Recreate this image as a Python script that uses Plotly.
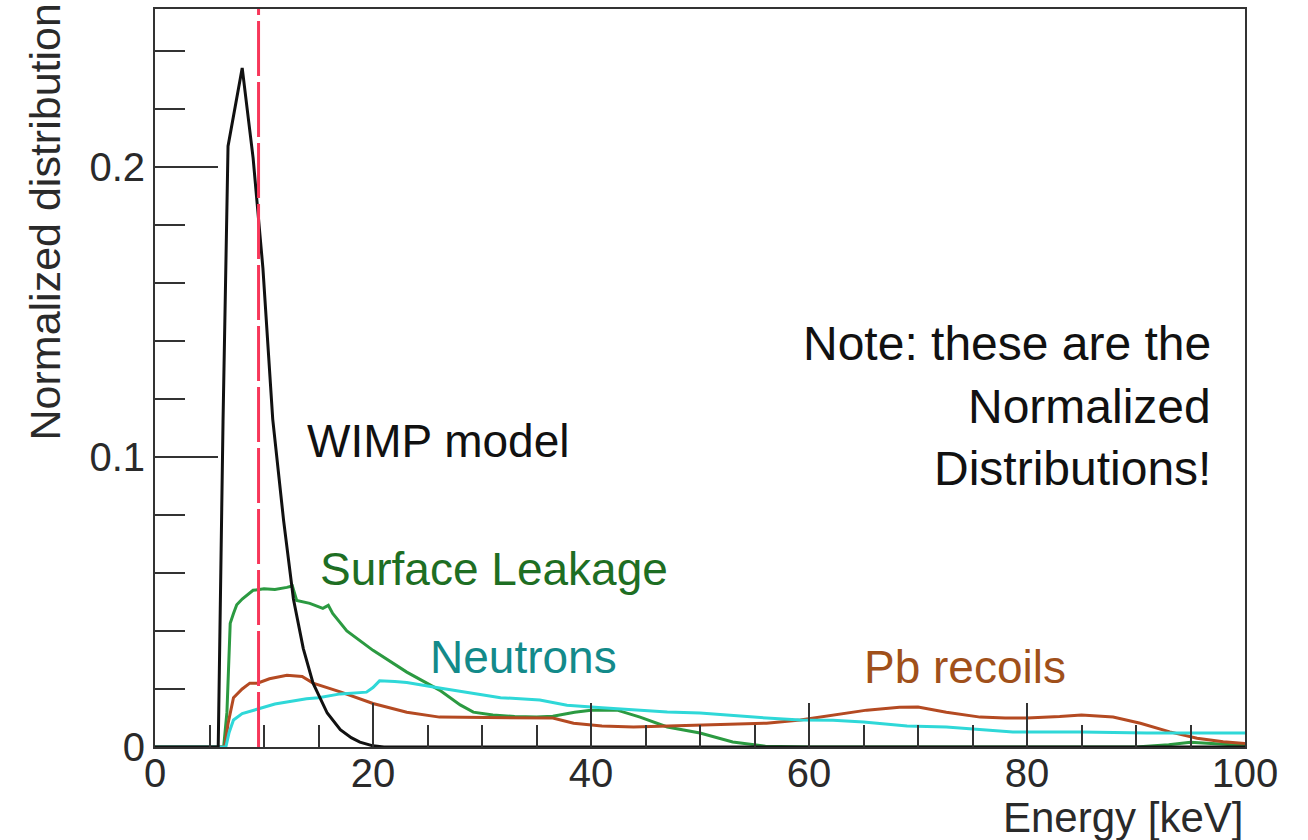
import plotly.graph_objects as go

# ---------------- data ----------------
wimp_x = [0, 5.8, 6.24, 6.7, 8.0, 9.0, 9.9, 10.8, 11.8, 12.7, 13.6, 14.5, 15.8, 17.0, 18.0, 18.8, 20.0, 21.0, 100]
wimp_y = [0, 0, 0.112, 0.207, 0.234, 0.203, 0.165, 0.113, 0.078, 0.051, 0.034, 0.022, 0.0117, 0.006, 0.0032, 0.0017, 0.0004, 0, 0]

surf_x = [0, 6.3, 6.6, 6.9, 7.2, 7.5, 8.0, 9.0, 10.0, 11.0, 12.1, 12.6, 13.0, 14.2, 15.4, 15.9, 16.3, 17.6, 20.0,
          23.1, 26.1, 28.0, 29.2, 31.0, 33.0, 35.0, 36.5, 38.5, 40.0, 42.4, 44.5, 47.0, 50.0, 53.0, 56.0, 60.0,
          90.0, 93.0, 95.0, 97.5, 100]
surf_y = [0, 0, 0.012, 0.0426, 0.0460, 0.0490, 0.0510, 0.054, 0.0545, 0.0543, 0.055, 0.0555, 0.0505, 0.0495, 0.0478,
          0.0488, 0.046, 0.040, 0.0333, 0.0258, 0.0196, 0.0145, 0.0120, 0.0110, 0.0105, 0.0103, 0.0106, 0.0120,
          0.0127, 0.0127, 0.0103, 0.0069, 0.0048, 0.0017, 0.0003, 0, 0, 0.0008, 0.0016, 0.0010, 0.0005]

pb_x = [0, 6.4, 6.7, 7.2, 8.0, 8.7, 9.4, 10.5, 12.1, 13.5, 14.5, 17.0, 20.0, 23.1, 26.1, 29.0, 32.3, 35.3, 36.5,
        38.4, 41.0, 43.9, 47.0, 50.0, 53.0, 56.1, 59.2, 62.2, 65.3, 68.3, 70.0, 72.6, 75.7, 78.0, 80.0, 83.0,
        85.0, 87.9, 90.4, 93.1, 95.6, 98.0, 100]
pb_y = [0, 0, 0.008, 0.017, 0.020, 0.022, 0.022, 0.0235, 0.0247, 0.0243, 0.022, 0.019, 0.015, 0.012, 0.0103,
        0.0102, 0.0102, 0.0101, 0.0100, 0.0082, 0.0072, 0.0069, 0.0072, 0.0076, 0.0080, 0.0082, 0.0093, 0.0110,
        0.0127, 0.0137, 0.0138, 0.0120, 0.0103, 0.0100, 0.0100, 0.0105, 0.0110, 0.0103, 0.0082, 0.0052, 0.0030,
        0.0018, 0.0012]

neu_x = [0, 6.5, 6.8, 7.2, 8.0, 9.6, 11.0, 13.9, 15.0, 17.0, 19.4, 20.0, 20.6, 22.0, 23.1, 26.1, 29.2, 31.7, 35.3,
         37.8, 41.0, 43.9, 47.0, 50.0, 53.0, 56.1, 59.2, 62.2, 65.0, 67.0, 69.0, 72.6, 75.5, 78.7, 84.9, 91.0,
         97.0, 100]
neu_y = [0, 0, 0.005, 0.0093, 0.0115, 0.0134, 0.0148, 0.0166, 0.0170, 0.0183, 0.0189, 0.0205, 0.0228, 0.0226,
         0.0222, 0.0203, 0.0186, 0.0170, 0.0162, 0.0144, 0.0135, 0.0127, 0.0121, 0.0117, 0.0108, 0.0100, 0.0093,
         0.0092, 0.0086, 0.0080, 0.0072, 0.0069, 0.0060, 0.0052, 0.0052, 0.0048, 0.0048, 0.0048]

threshold_keV = 9.5

x_ticks = [0, 20, 40, 60, 80, 100]
y_ticks = [0, 0.1, 0.2]
y_tick_labels = ["0", "0.1", "0.2"]

# ---------------- figure ----------------
FONT = "Liberation Sans, Arial, Helvetica, sans-serif"

fig = go.Figure()
fig.add_trace(go.Scatter(x=surf_x, y=surf_y, mode="lines", line=dict(color="#2b9a41", width=3),
                         name="Surface Leakage"))
fig.add_trace(go.Scatter(x=pb_x, y=pb_y, mode="lines", line=dict(color="#b44a22", width=3),
                         name="Pb recoils"))
fig.add_trace(go.Scatter(x=neu_x, y=neu_y, mode="lines", line=dict(color="#2fd8d8", width=3),
                         name="Neutrons"))
fig.add_trace(go.Scatter(x=wimp_x, y=wimp_y, mode="lines", line=dict(color="#111111", width=3),
                         name="WIMP model"))
fig.add_trace(go.Scatter(x=[threshold_keV, threshold_keV], y=[0, 0.2543], mode="lines",
                         line=dict(color="#f7375a", width=3, dash="55px,6px"), name="threshold"))

axis_common = dict(
    showgrid=False, zeroline=False, showline=True, linecolor="#333333", linewidth=2, mirror=True,
    ticks="inside", tickcolor="#333333", tickwidth=1.5,
    tickfont=dict(family=FONT, size=40, color="#2a2a2a"),
)

fig.update_xaxes(range=[0, 100], tickvals=x_ticks, ticklen=44, ticklabelstandoff=-10,
                 minor=dict(dtick=5, tick0=0, ticks="inside", ticklen=22, tickcolor="#333333", tickwidth=1.5),
                 **axis_common)
fig.update_yaxes(range=[0, 0.2543], tickvals=y_ticks, ticktext=y_tick_labels, ticklen=63,
                 minor=dict(dtick=0.02, tick0=0, ticks="inside", ticklen=30, tickcolor="#333333", tickwidth=1.5),
                 **axis_common)

ann_font = dict(family=FONT, size=46)
annotations = [
    dict(x=13.76, y=0.1055, text="WIMP model", font=dict(color="#111111", **ann_font)),
    dict(x=14.95, y=0.0612, text="Surface Leakage", font=dict(color="#1e6e23", **ann_font)),
    dict(x=25.05, y=0.0309, text="Neutrons", font=dict(color="#138a8a", **ann_font)),
    dict(x=64.9, y=0.0275, text="Pb recoils", font=dict(color="#a0501a", **ann_font)),
]
for a in annotations:
    a.update(xref="x", yref="y", xanchor="left", yanchor="middle", showarrow=False)

note_lines = ["Note: these are the", "Normalized", "Distributions!"]
note_y = [0.1392, 0.1175, 0.0959]
for t, yy in zip(note_lines, note_y):
    annotations.append(dict(x=97.06, y=yy, xref="x", yref="y", text=t, xanchor="right", yanchor="middle",
                            showarrow=False, font=dict(family=FONT, size=48, color="#111111")))

# axis titles (ROOT style: aligned to the axis end)
annotations.append(dict(x=1.0, y=-0.0959, xref="paper", yref="paper", text="Energy [keV]",
                        xanchor="right", yanchor="middle", showarrow=False,
                        font=dict(family=FONT, size=42, color="#2a2a2a")))
annotations.append(dict(x=-0.1009, y=0.412, xref="paper", yref="paper", text="Normalized distribution",
                        textangle=-90, xanchor="center", yanchor="bottom", showarrow=False,
                        font=dict(family=FONT, size=43, color="#2a2a2a")))

fig.update_layout(
    width=1308, height=840,
    margin=dict(l=155, r=63, t=7, b=93),
    paper_bgcolor="white", plot_bgcolor="white",
    showlegend=False,
    annotations=annotations,
)

fig.write_html("out.html")
